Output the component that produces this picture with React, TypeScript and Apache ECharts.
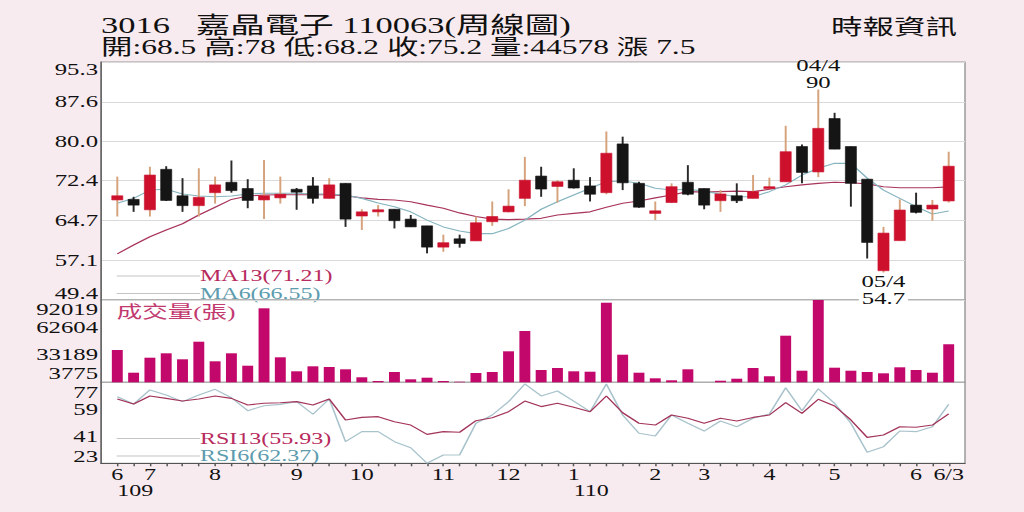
import React, { useEffect, useRef } from 'react';
import * as echarts from 'echarts';

// horizontal stretch of the reference picture
const W0 = 683;
const S = 1024 / W0;

const SERIF = "'Liberation Serif', 'Noto Sans CJK TC', serif";

// ---- data ----
const weekLabels = ['6', '', '7', '', '', '', '8', '', '', '', '', '9', '', '', '', '10', '', '', '', '', '11', '', '', '', '12', '', '', '', '1', '', '', '', '', '2', '', '', '3', '', '', '', '4', '', '', '', '5', '', '', '', '', '6', '', '6/3'];
const yearLabels = ['109', '', '', '', '', '', '', '', '', '', '', '', '', '', '', '', '', '', '', '', '', '', '', '', '', '', '', '', '110', '', '', '', '', '', '', '', '', '', '', '', '', '', '', '', '', '', '', '', '', '', '', ''];

const opens = [68.7, 68.8, 66.8, 74.6, 69.5, 67.6, 70.1, 72.1, 70.9, 68.7, 69.1, 70.75, 71.4, 69.0, 71.9, 65.6, 66.4, 66.9, 65.0, 63.7, 59.6, 61.2, 60.8, 64.5, 66.4, 69.0, 73.3, 71.3, 72.5, 71.4, 70.1, 79.5, 71.9, 66.1, 68.2, 72.1, 70.9, 68.55, 69.5, 69.0, 70.9, 72.2, 79.0, 74.1, 84.4, 79.0, 72.7, 55.05, 60.85, 67.7, 66.95, 68.5];
const closes = [69.5, 67.7, 73.5, 68.6, 67.6, 69.2, 71.6, 70.5, 68.6, 69.5, 69.8, 70.2, 69.0, 71.6, 65.0, 66.4, 66.8, 64.7, 63.5, 59.6, 60.45, 60.3, 64.3, 65.5, 67.5, 72.5, 70.8, 72.2, 71.0, 69.8, 77.7, 72.0, 67.3, 66.6, 71.25, 69.8, 67.7, 69.85, 68.55, 70.3, 71.25, 78.0, 74.0, 82.5, 78.5, 71.9, 60.5, 62.3, 66.75, 66.3, 67.7, 75.2];
const lows = [65.5, 66.4, 65.5, 68.5, 66.4, 65.5, 68.0, 70.1, 67.1, 65.0, 68.0, 66.8, 68.0, 69.0, 63.5, 62.9, 65.5, 63.2, 63.5, 58.4, 58.7, 59.5, 60.8, 63.7, 66.3, 67.5, 69.3, 68.2, 70.9, 68.4, 69.8, 70.6, 67.2, 64.8, 68.1, 69.6, 66.9, 66.4, 68.1, 69.0, 70.9, 72.2, 71.9, 73.1, 78.5, 67.4, 57.4, 54.7, 60.85, 66.1, 64.7, 68.2];
const highs = [73.2, 69.3, 75.1, 75.2, 72.9, 74.8, 73.2, 76.3, 72.7, 76.4, 73.2, 71.0, 73.1, 72.9, 71.9, 66.9, 67.7, 66.9, 65.8, 63.7, 62.0, 62.0, 65.5, 68.4, 70.75, 77.0, 75.1, 72.5, 74.8, 73.1, 81.9, 80.9, 72.2, 68.4, 71.9, 75.4, 70.9, 70.6, 71.9, 73.5, 73.0, 83.0, 79.4, 90.0, 85.5, 79.0, 72.7, 63.5, 68.8, 70.1, 68.7, 78.0];

const ma13 = [58.3, 60.0, 61.6, 62.9, 64.1, 65.8, 67.3, 68.8, 69.45, 69.65, 69.7, 69.7, 69.7, 69.7, 69.5, 69.1, 68.8, 68.7, 68.35, 67.7, 67.1, 66.2, 65.5, 65.0, 64.9, 65.0, 65.15, 65.8, 66.1, 66.4, 67.3, 68.05, 68.5, 69.1, 69.65, 70.3, 70.2, 70.3, 70.4, 70.3, 70.75, 71.25, 71.6, 71.9, 72.1, 72.0, 71.8, 71.25, 71.05, 71.05, 71.05, 71.21];
const ma6 = [68.05, 69.0, 70.6, 70.75, 69.85, 69.45, 69.3, 69.45, 69.85, 70.0, 70.0, 70.0, 69.85, 69.85, 69.65, 69.0, 68.1, 67.4, 66.4, 64.8, 63.5, 62.7, 62.2, 62.2, 63.2, 64.8, 66.9, 68.35, 69.65, 70.95, 72.2, 72.35, 71.9, 70.95, 70.6, 70.75, 70.4, 69.8, 69.3, 69.3, 70.3, 71.6, 73.5, 74.8, 75.75, 75.75, 72.9, 70.6, 69.0, 67.4, 66.0, 66.55];

const volumes = [38410, 14070, 30150, 34870, 28440, 47300, 26290, 34870, 21570, 83110, 30580, 15570, 20930, 20180, 17710, 9140, 5170, 14820, 6990, 8710, 5170, 4420, 13750, 14820, 37010, 58770, 16960, 19110, 15570, 15140, 89120, 33370, 14070, 8065, 5920, 17710, 3775, 5490, 7630, 19110, 10210, 53740, 16210, 92019, 19430, 16210, 14820, 13420, 19860, 16960, 14070, 44578];

const rsi13 = [65.9, 62.5, 67.9, 66.3, 64.5, 65.9, 67.9, 66.3, 61.9, 63.0, 63.4, 64.1, 61.9, 65.9, 51.9, 53.6, 54.1, 50.7, 48.5, 42.3, 44.1, 43.7, 51.4, 53.4, 57.4, 64.5, 60.8, 63.0, 60.3, 57.4, 67.9, 56.7, 49.7, 48.5, 55.2, 53.0, 49.7, 53.0, 51.2, 53.6, 55.2, 63.4, 56.3, 65.7, 61.2, 51.9, 40.3, 41.9, 47.4, 47.0, 48.5, 55.93];
const rsi6 = [67.4, 62.5, 71.9, 68.5, 64.1, 68.5, 72.3, 66.7, 58.1, 61.4, 62.3, 64.1, 55.7, 65.9, 37.4, 44.1, 44.1, 37.4, 33.4, 23.0, 28.5, 28.5, 49.7, 55.2, 64.1, 75.9, 67.9, 71.2, 64.5, 57.4, 75.9, 55.2, 43.0, 41.2, 55.2, 49.7, 44.5, 51.2, 47.4, 53.0, 55.9, 73.4, 58.1, 72.7, 63.0, 49.7, 30.3, 34.1, 44.5, 44.1, 47.4, 62.37];

const priceTicks = [49.4, 57.1, 64.7, 72.4, 80.0, 87.6, 95.3];
const volumeTicks = [3775, 33189, 62604, 92019];
const rsiTicks = [23, 41, 59, 77];

const highNote = { week: 43, date: '04/4' };
const lowNote = { week: 47, date: '05/4' };

const headerLine1 = '3016   嘉晶電子 110063(周線圖)';
const headerLine2 = '開:68.5 高:78 低:68.2 收:75.2 量:44578 漲 7.5';
const source = '時報資訊';

// ---- colours ----
const RED = '#cd112d';
const BLACK = '#151515';
const WICK_UP = '#d5a27c';
const WICK_DOWN = '#2a2a2a';
const MA13_C = '#a8345a';
const MA6_C = '#86b5c0';
const RSI13_C = '#a3345a';
const RSI6_C = '#a9c3cc';
const VOL_C = '#c3086c';
const LEG13_C = '#b82a5d';
const LEG6_C = '#5d9cae';

const pad = (arr: any[]) => ['-', ...arr, '-'];
const axisCats = Array.from({ length: weekLabels.length + 2 }, (_, k) => String(k));

const ux = (xRef: number) => xRef / S;

function yLabel(ticks: number[], fmt: (v: number) => string, padTop: number, padBot: number) {
  const base = { fontSize: 16.5, fontFamily: SERIF, color: '#111' };
  return {
    customValues: ticks,
    margin: 2,
    showMinLabel: true,
    showMaxLabel: true,
    ...base,
    formatter: (v: number) => {
      const s = fmt(v);
      if (Math.abs(v - ticks[ticks.length - 1]) < 1e-9) return `{t|${s}}`;
      if (Math.abs(v - ticks[0]) < 1e-9) return `{b|${s}}`;
      return s;
    },
    rich: {
      t: { ...base, padding: [padTop, 0, 0, 0] },
      b: { ...base, padding: [0, 0, padBot, 0] },
    },
  };
}

export default function App() {
  const ref = useRef<HTMLDivElement>(null);

  useEffect(() => {
    if (!ref.current) return;
    const chart = echarts.init(ref.current, undefined, { renderer: 'svg' });

    const candleData = opens.map((o, i) => [i + 1, o, closes[i], lows[i], highs[i]]);

    const gridBase = {
      left: ux(101),
      right: W0 - ux(965),
      show: true,
      backgroundColor: '#ffffff',
      borderColor: '#9a9a9a',
      borderWidth: 1,
      containLabel: false,
      outerBoundsMode: 'none',
    };

    const hiddenX = (gridIndex: number) => ({
      type: 'category',
      gridIndex,
      data: axisCats,
      boundaryGap: false,
      axisLine: { show: false },
      axisTick: { show: false },
      axisLabel: { show: false },
      splitLine: { show: false },
    });

    const legendLine = (y: number) => ({
      type: 'line',
      shape: { x1: ux(116.7), y1: y, x2: ux(200), y2: y },
      style: { stroke: '#c4c4c4', lineWidth: 1 },
      silent: true,
    });
    const legendText = (y: number, text: string, color: string) => ({
      type: 'text',
      x: ux(200),
      y,
      style: { text, fill: color, fontSize: 16, lineHeight: 15, fontFamily: SERIF, verticalAlign: 'middle', align: 'left' },
      silent: true,
    });

    const option: any = {
      animation: false,
      backgroundColor: 'transparent',
      textStyle: { fontFamily: SERIF },
      grid: [
        { ...gridBase, top: 62, height: 238 },
        { ...gridBase, top: 300, height: 82.3 },
        { ...gridBase, top: 382.3, height: 81 },
      ],
      xAxis: [
        hiddenX(0),
        hiddenX(1),
        {
          type: 'category',
          gridIndex: 2,
          data: axisCats,
          boundaryGap: false,
          position: 'bottom',
          axisLine: { show: true, lineStyle: { color: '#555', width: 1 } },
          axisTick: {
            show: true,
            length: 3,
            inside: false,
            interval: (idx: number) => idx >= 1 && idx <= weekLabels.length,
            lineStyle: { color: '#555', width: 1 },
          },
          axisLabel: {
            show: true,
            interval: 0,
            margin: 3,
            fontSize: 16,
            fontFamily: SERIF,
            color: '#111',
            formatter: (v: string) => weekLabels[+v - 1] || '',
          },
          splitLine: { show: false },
        },
        {
          type: 'category',
          gridIndex: 2,
          data: axisCats,
          boundaryGap: false,
          position: 'bottom',
          axisLine: { show: false },
          axisTick: { show: false },
          axisLabel: {
            show: true,
            interval: 0,
            margin: 19,
            align: 'left',
            fontSize: 16,
            fontFamily: SERIF,
            color: '#111',
            formatter: (v: string) => yearLabels[+v - 1] || '',
          },
          splitLine: { show: false },
        },
      ],
      yAxis: [
        {
          type: 'value',
          gridIndex: 0,
          min: priceTicks[0],
          max: priceTicks[priceTicks.length - 1],
          axisLine: { show: true, lineStyle: { color: '#666', width: 1 } },
          axisTick: { show: false, customValues: priceTicks },
          splitLine: { show: true, lineStyle: { color: '#dadada', width: 1 } },
          axisLabel: yLabel(priceTicks, (v) => v.toFixed(1), 16, 14),
        },
        {
          type: 'value',
          gridIndex: 1,
          min: volumeTicks[0],
          max: volumeTicks[volumeTicks.length - 1],
          axisLine: { show: true, lineStyle: { color: '#666', width: 1 } },
          axisTick: { show: false, customValues: volumeTicks },
          splitLine: { show: false },
          axisLabel: yLabel(volumeTicks, (v) => String(Math.round(v)), 20, 17),
        },
        {
          type: 'value',
          gridIndex: 2,
          min: rsiTicks[0],
          max: rsiTicks[rsiTicks.length - 1],
          axisLine: { show: true, lineStyle: { color: '#666', width: 1 } },
          axisTick: { show: false, customValues: rsiTicks },
          splitLine: { show: false },
          axisLabel: yLabel(rsiTicks, (v) => String(Math.round(v)), 20, 14),
        },
      ],
      series: [
        {
          name: 'MA13',
          type: 'line',
          xAxisIndex: 0,
          yAxisIndex: 0,
          data: pad(ma13),
          showSymbol: false,
          symbol: 'none',
          lineStyle: { color: MA13_C, width: 1.1 },
          z: 2,
          markPoint: {
            symbol: 'circle',
            symbolSize: 0.1,
            silent: true,
            itemStyle: { color: 'rgba(0,0,0,0)' },
            data: [
              {
                coord: [highNote.week + 1, highs[highNote.week]],
                label: {
                  show: true,
                  position: 'top',
                  distance: 0,
                  offset: [0, 2],
                  formatter: `${highNote.date}\n${highs[highNote.week]}`,
                  fontSize: 16.5,
                  lineHeight: 17,
                  fontFamily: SERIF,
                  color: '#111',
                },
              },
              {
                coord: [lowNote.week + 1, lows[lowNote.week]],
                label: {
                  show: true,
                  position: 'bottom',
                  distance: 0,
                  formatter: `{a|${lowNote.date}}\n{b|${lows[lowNote.week]}}`,
                  rich: {
                    a: { fontSize: 16.5, lineHeight: 17, fontFamily: SERIF, color: '#111' },
                    b: { fontSize: 16.5, lineHeight: 17, fontFamily: SERIF, color: '#111', backgroundColor: '#ffffff', padding: [0, 2, 0, 2] },
                  },
                },
              },
            ],
          },
        },
        {
          name: 'MA6',
          type: 'line',
          xAxisIndex: 0,
          yAxisIndex: 0,
          data: pad(ma6),
          showSymbol: false,
          symbol: 'none',
          lineStyle: { color: MA6_C, width: 1.1 },
          z: 2,
        },
        {
          name: 'K',
          type: 'custom',
          xAxisIndex: 0,
          yAxisIndex: 0,
          z: 3,
          data: candleData,
          encode: { x: 0, y: [1, 2, 3, 4] },
          renderItem: (params: any, api: any) => {
            const k = api.value(0);
            const o = api.value(1);
            const c = api.value(2);
            const l = api.value(3);
            const h = api.value(4);
            const up = c >= o;
            const pH = api.coord([k, h]);
            const pL = api.coord([k, l]);
            const pO = api.coord([k, o]);
            const pC = api.coord([k, c]);
            const bw = api.size([1, 0])[0] * 0.68;
            const top = Math.min(pO[1], pC[1]);
            const bh = Math.max(Math.abs(pO[1] - pC[1]), 1.5);
            return {
              type: 'group',
              children: [
                {
                  type: 'line',
                  shape: { x1: pH[0], y1: pH[1], x2: pL[0], y2: pL[1] },
                  style: { stroke: up ? WICK_UP : WICK_DOWN, lineWidth: 1.3 },
                },
                {
                  type: 'rect',
                  shape: { x: pO[0] - bw / 2, y: top, width: bw, height: bh },
                  style: { fill: up ? RED : BLACK, stroke: up ? RED : BLACK, lineWidth: 0.5 },
                },
              ],
            };
          },
        },
        {
          name: 'VOL',
          type: 'bar',
          xAxisIndex: 1,
          yAxisIndex: 1,
          data: pad(volumes),
          barWidth: '67%',
          itemStyle: { color: VOL_C },
        },
        {
          name: 'RSI13',
          type: 'line',
          xAxisIndex: 2,
          yAxisIndex: 2,
          data: pad(rsi13),
          showSymbol: false,
          symbol: 'none',
          lineStyle: { color: RSI13_C, width: 1.1 },
          z: 3,
        },
        {
          name: 'RSI6',
          type: 'line',
          xAxisIndex: 2,
          yAxisIndex: 2,
          data: pad(rsi6),
          showSymbol: false,
          symbol: 'none',
          lineStyle: { color: RSI6_C, width: 1.1 },
          z: 2,
        },
      ],
      graphic: [
        {
          type: 'text',
          x: ux(101),
          y: 25,
          style: { text: headerLine1, fontSize: 23, lineHeight: 20, fontFamily: SERIF, fill: '#111', verticalAlign: 'middle', align: 'left' },
          silent: true,
        },
        {
          type: 'text',
          x: ux(101),
          y: 47,
          style: { text: headerLine2, fontSize: 21, lineHeight: 20, fontFamily: SERIF, fill: '#111', verticalAlign: 'middle', align: 'left' },
          silent: true,
        },
        {
          type: 'text',
          x: ux(957),
          y: 27,
          style: { text: source, fontSize: 21, fontFamily: SERIF, fill: '#111', verticalAlign: 'middle', align: 'right' },
          silent: true,
        },
        legendLine(276),
        legendLine(293.5),
        legendText(276, `MA13(${ma13[ma13.length - 1].toFixed(2)})`, LEG13_C),
        legendText(293.5, `MA6(${ma6[ma6.length - 1].toFixed(2)})`, LEG6_C),
        {
          type: 'text',
          x: ux(116.7),
          y: 312.7,
          style: { text: '成交量(張)', fontSize: 17, fontFamily: SERIF, fill: '#c2396f', verticalAlign: 'middle', align: 'left' },
          silent: true,
        },
        legendLine(438.5),
        legendLine(456),
        legendText(438.5, `RSI13(${rsi13[rsi13.length - 1].toFixed(2)})`, LEG13_C),
        legendText(456, `RSI6(${rsi6[rsi6.length - 1].toFixed(2)})`, LEG6_C),
      ],
    };

    chart.setOption(option);
    return () => chart.dispose();
  }, []);

  return (
    <div
      style={{
        position: 'fixed',
        left: 0,
        top: 0,
        width: 1024,
        height: 512,
        overflow: 'hidden',
        background: '#f8ebef',
      }}
    >
      <div
        ref={ref}
        style={{ width: W0, height: 512, transform: `scaleX(${S})`, transformOrigin: '0 0' }}
      />
    </div>
  );
}
